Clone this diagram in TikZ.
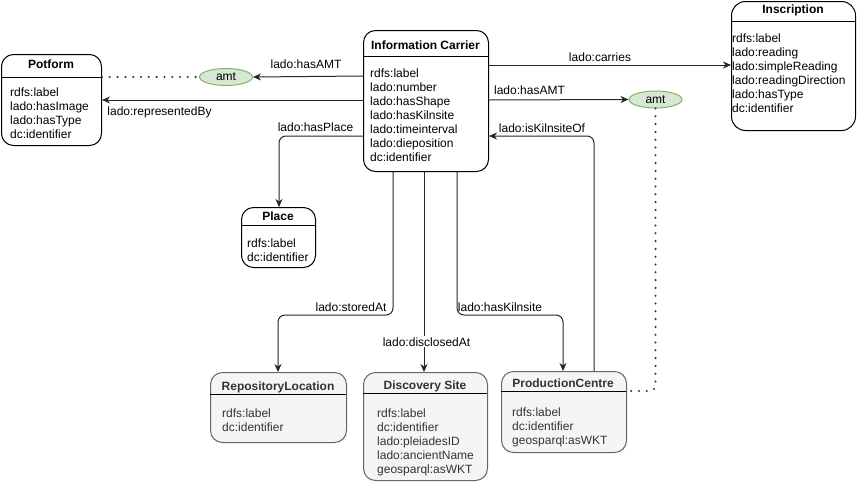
\documentclass[tikz,border=0pt]{standalone}
\usepackage{fontspec}
\setmainfont{Liberation Sans}
\usetikzlibrary{arrows.meta,shapes.geometric}
\definecolor{amtfill}{HTML}{D5E8D4}
\definecolor{amtdraw}{HTML}{82B366}
\definecolor{grayfill}{HTML}{F5F5F5}
\definecolor{graydraw}{HTML}{666666}
\definecolor{graytext}{HTML}{333333}
\tikzset{
  cbox/.style={draw=black, line width=1pt, rounded corners=12pt, anchor=north west, inner sep=0pt, fill=white},
  gbox/.style={cbox, draw=graydraw, fill=grayfill},
  ctitle/.style={font=\fontsize{12}{14}\selectfont\bfseries, anchor=base, inner sep=0pt},
  attr/.style={font=\fontsize{12}{14}\selectfont, align=left, anchor=north west, inner sep=0pt},
  elab/.style={font=\fontsize{12}{14}\selectfont, anchor=base, inner sep=1pt},
  conn/.style={draw=black!85, line width=1pt, rounded corners=7pt, -{Stealth[length=8pt,width=7pt,inset=2.5pt]}},
  dotline/.style={line width=2.3pt, line cap=round, dash pattern=on 0pt off 7.8pt, rounded corners=6pt, draw=black!80},
  amt/.style={ellipse, draw=amtdraw, fill=amtfill, line width=1pt, minimum width=53pt, minimum height=17pt, inner sep=0pt, font=\fontsize{12}{14}\selectfont}
}
\begin{document}
\begin{tikzpicture}[x=1pt,y=-1pt]
\useasboundingbox (0,0) rectangle (858,482);

% Information Carrier
\node[cbox, minimum width=125pt, minimum height=141pt] (ic) at (363,30) {};
\node[ctitle] (ict) at (425.5,49.3) {Information Carrier};
\draw[line width=1pt] (363,56) -- (488,56);
\node[attr] (ica) at (370,68.4) {rdfs:label\\lado:number\\lado:hasShape\\lado:hasKilnsite\\lado:timeinterval\\lado:dieposition\\dc:identifier};

% Potform
\node[cbox, minimum width=100pt, minimum height=91pt] (pf) at (1,54) {};
\node[ctitle] (pft) at (51,68.3) {Potform};
\draw[line width=1pt] (1,77) -- (101,77);
\node[attr] (pfa) at (10,87.8) {rdfs:label\\lado:hasImage\\lado:hasType\\dc:identifier};

% Place
\node[cbox, minimum width=74pt, minimum height=60pt] (pl) at (241,207) {};
\node[ctitle] (plt) at (278,220.3) {Place};
\draw[line width=1pt] (241,225) -- (315,225);
\node[attr] (pla) at (247,238.7) {rdfs:label\\dc:identifier};

% Inscription
\node[cbox, minimum width=124pt, minimum height=129pt, rounded corners=14pt] (ins) at (731,1) {};
\node[ctitle] (inst) at (793,13.3) {Inscription};
\draw[line width=1pt] (731,21) -- (855,21);
\node[attr] (insa) at (732,33.7) {rdfs:label\\lado:reading\\lado:simpleReading\\lado:readingDirection\\lado:hasType\\dc:identifier};

% Repository Location
\node[gbox, minimum width=136pt, minimum height=70pt] (rl) at (210,372) {};
\node[ctitle, text=graytext] (rlt) at (278,390.3) {RepositoryLocation};
\draw[line width=1pt, draw=black] (210,394) -- (346,394);
\node[attr, text=graytext] (rla) at (222,408.7) {rdfs:label\\dc:identifier};

% Discovery Site
\node[gbox, minimum width=124pt, minimum height=108pt] (ds) at (363,372) {};
\node[ctitle, text=graytext] (dst) at (425,389.3) {Discovery Site};
\draw[line width=1pt, draw=black] (363,393) -- (487,393);
\node[attr, text=graytext] (dsa) at (377,408.7) {rdfs:label\\dc:identifier\\lado:pleiadesID\\lado:ancientName\\geosparql:asWKT};

% Production Centre
\node[gbox, minimum width=125pt, minimum height=81pt] (pc) at (501,371) {};
\node[ctitle, text=graytext] (pct) at (563,387.3) {ProductionCentre};
\draw[line width=1pt, draw=black] (501,391) -- (626,391);
\node[attr, text=graytext] (pca) at (512,407.7) {rdfs:label\\dc:identifier\\geosparql:asWKT};

% amt ellipses
\node[amt] (amtl) at (226,77) {amt};
\node[amt] (amtr) at (655.5,99.5) {amt};

% connectors
\draw[conn] (ic.west |- 0,76) -- (amtl.east);
\draw[conn] (ic.west |- 0,100) -- (pf.east |- 0,100);
\draw[conn] (ic.west |- 0,136) -- (279,136) -- (pl.north -| 279,0);
\draw[conn] (ic.east |- 0,65) -- (ins.west |- 0,65);
\draw[conn] (ic.east |- 0,100) -- (amtr.west);
\draw[conn] (pc.north -| 594,0) -- (594,136) -- (ic.east |- 0,136);
\draw[conn] (ic.south -| 393,0) -- (393,315) -- (278,315) -- (rl.north -| 278,0);
\draw[conn] (ic.south -| 424,0) -- (ds.north -| 424,0);
\draw[conn] (ic.south -| 457,0) -- (457,315) -- (563,315) -- (pc.north -| 563,0);

% dotted links
\draw[dotline] (pf.east |- 0,77) -- (amtl.west);
\draw[dotline] (amtr.south) -- (655.5,391) -- (pc.east |- 0,391);

% edge labels
\node[elab] (l1) at (306,68.5) {lado:hasAMT};
\node[elab] (l2) at (159.5,115.3) {lado:representedBy};
\node[elab] (l3) at (315.5,131) {lado:hasPlace};
\node[elab] (l4) at (600,61.3) {lado:carries};
\node[elab] (l5) at (529.5,94.8) {lado:hasAMT};
\node[elab] (l6) at (542,132) {lado:isKilnsiteOf};
\node[elab] (l7) at (351,311.6) {lado:storedAt};
\node[elab] (l8) at (500,311.6) {lado:hasKilnsite};
\node[elab, fill=white] (l9) at (426.5,346) {lado:disclosedAt};
\end{tikzpicture}
\end{document}
